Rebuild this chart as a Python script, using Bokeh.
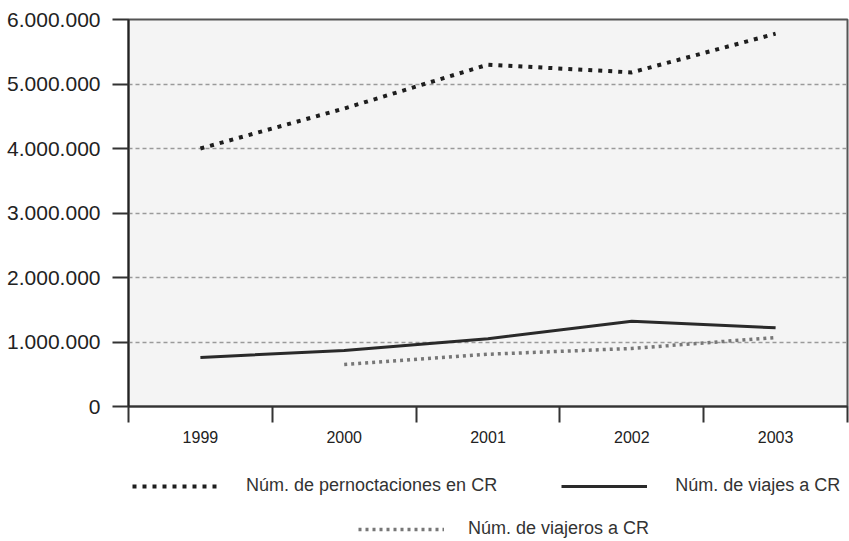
from bokeh.plotting import figure
from bokeh.layouts import column
from bokeh.models import FactorRange, Range1d, LinearAxis, FixedTicker, Legend, LegendItem
from bokeh.embed import file_html
from bokeh.resources import INLINE

years = ["1999", "2000", "2001", "2002", "2003"]
pernoctaciones = [4000000, 4620000, 5300000, 5180000, 5780000]
viajes = [760000, 870000, 1050000, 1320000, 1220000]
viajeros_years = ["2000", "2001", "2002", "2003"]
viajeros = [650000, 810000, 900000, 1070000]

y_ticks = [0, 1000000, 2000000, 3000000, 4000000, 5000000, 6000000]
y_tick_labels = ["0", "1.000.000", "2.000.000", "3.000.000", "4.000.000", "5.000.000", "6.000.000"]

label_pern = "Núm. de pernoctaciones en CR"
label_viajes = "Núm. de viajes a CR"
label_viajeros = "Núm. de viajeros a CR"

FONT = "Liberation Sans"
n = len(years)

STYLE_PERN = dict(line_color="#1e1e1e", line_width=4, line_dash="4 6")
STYLE_VIAJES = dict(line_color="#2a2a2a", line_width=3)
STYLE_VIAJEROS = dict(line_color="#777777", line_width=3.5, line_dash="3 4")

p = figure(width=849, height=460,
           x_range=FactorRange(*years), y_range=Range1d(0, 6000000),
           output_backend="svg", toolbar_location=None,
           x_axis_location=None,
           min_border_left=128, min_border_right=2,
           min_border_top=19, min_border_bottom=54)

p.background_fill_color = "#f4f4f4"
p.border_fill_color = "white"
p.outline_line_color = "#555555"
p.outline_line_width = 2

# horizontal dashed gridlines
p.xgrid.visible = False
p.ygrid.ticker = FixedTicker(ticks=y_ticks)
p.ygrid.grid_line_color = "#9a9a9a"
p.ygrid.grid_line_dash = "4 3"
p.ygrid.grid_line_width = 1.5

# y axis
yax = p.yaxis[0]
yax.ticker = FixedTicker(ticks=y_ticks)
yax.major_label_overrides = {t: l for t, l in zip(y_ticks, y_tick_labels)}
yax.major_tick_out = 16
yax.major_tick_in = 0
yax.minor_tick_line_color = None
yax.major_tick_line_color = "#333333"
yax.major_tick_line_width = 2
yax.axis_line_color = "#222222"
yax.axis_line_width = 2
yax.major_label_text_font = FONT
yax.major_label_text_font_size = "21px"
yax.major_label_text_color = "#222222"
yax.major_label_standoff = 12

# x axis with ticks at category boundaries, labels at centres (synthetic coords)
centres = [i + 0.5 for i in range(n)]
xax = LinearAxis(ticker=FixedTicker(ticks=centres, minor_ticks=list(range(n + 1))))
xax.major_label_overrides = {c: y for c, y in zip(centres, years)}
xax.major_tick_line_color = None
xax.major_tick_out = 0
xax.major_tick_in = 0
xax.minor_tick_line_color = "#333333"
xax.minor_tick_line_width = 2
xax.minor_tick_out = 16
xax.minor_tick_in = 0
xax.axis_line_color = "#333333"
xax.axis_line_width = 2
xax.major_label_text_font = FONT
xax.major_label_text_font_size = "16px"
xax.major_label_text_color = "#222222"
xax.major_label_standoff = 8
p.add_layout(xax, "below")

p.line(years, pernoctaciones, **STYLE_PERN)
p.line(years, viajes, **STYLE_VIAJES)
p.line(viajeros_years, viajeros, **STYLE_VIAJEROS)

# legend panel below the chart (proxy lines lie outside its visible range)
lp = figure(width=849, height=81, x_range=Range1d(0, 1), y_range=Range1d(0, 1),
            output_backend="svg", toolbar_location=None,
            x_axis_location=None, y_axis_location=None,
            min_border_left=0, min_border_right=0, min_border_top=0, min_border_bottom=0)
lp.xgrid.visible = False
lp.ygrid.visible = False
lp.outline_line_color = None
lp.background_fill_color = "white"
lp.border_fill_color = "white"

proxy_x = [-2, -1]
proxy_y = [-2, -2]
k_pern = lp.line(proxy_x, proxy_y, **STYLE_PERN)
k_viajes = lp.line(proxy_x, proxy_y, **STYLE_VIAJES)
k_viajeros = lp.line(proxy_x, proxy_y, **STYLE_VIAJEROS)

def make_legend(items, loc, spacing, standoff):
    return Legend(items=items, location=loc, orientation="horizontal",
                  glyph_width=86, glyph_height=18, label_standoff=standoff,
                  spacing=spacing, padding=0, margin=0,
                  border_line_color=None, background_fill_alpha=0,
                  label_text_font=FONT, label_text_font_size="18px",
                  label_text_color="#333333", label_height=18)

lg1 = make_legend([LegendItem(label=label_pern, renderers=[k_pern]),
                   LegendItem(label=label_viajes, renderers=[k_viajes])],
                  (4, 45), 64, 28)
lg2 = make_legend([LegendItem(label=label_viajeros, renderers=[k_viajeros])],
                  (230, 2), 0, 24)
lp.add_layout(lg1, "center")
lp.add_layout(lg2, "center")

layout = column(p, lp, spacing=0)
open("out.html", "w").write(file_html(layout, INLINE))
